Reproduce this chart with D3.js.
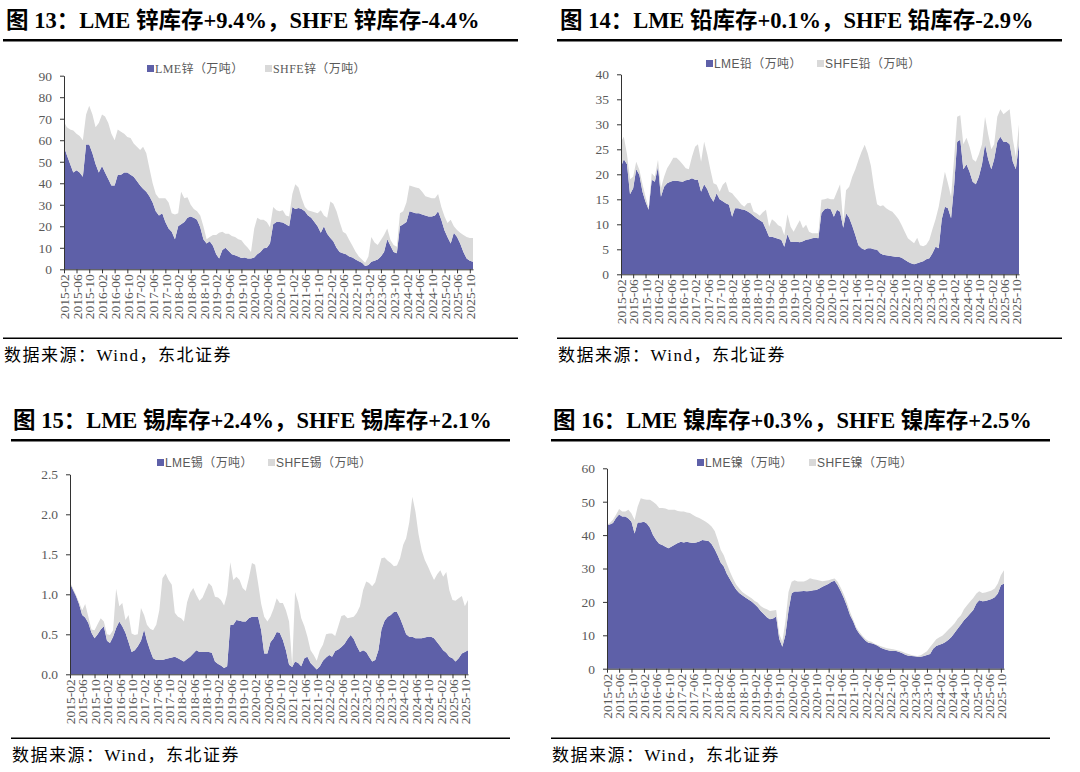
<!DOCTYPE html>
<html>
<head>
<meta charset="utf-8">
<script src="https://cdn.jsdelivr.net/npm/d3@7"></script>
<style>
  body { margin: 0; background: #fff; }
  svg { display: block; }
</style>
</head>
<body>
<script>
// months 2015-02 .. 2025-11, one point per month
var months = d3.timeMonth.range(new Date(2015, 1, 1), new Date(2025, 11, 1));
// axis labels every 4 months, 2015-02 .. 2025-10
var tickMonths = d3.range(0, 33).map(function(i){ return d3.timeMonth.offset(new Date(2015, 1, 1), 4 * i); });

// zinc, 万吨
var zincLME = [57,53,49,45,46,45,43,58,58,54,49,45, 48,45,42,39,39,44,44,45,45,44,43,41,
  39,37.5,36,34,31,27,25,26,22,19,17.5,14, 20,21,22,24,24.5,24,23,19.5,14,12,13,11,
  7,5,9,10,8.5,7,6.5,6,5.2,5.5,5,5, 5.5,7,8,9.8,10,12,21,22,22,21.7,21,20,
  29,28,28.5,28,27,25,24,22,20,17,20,16.5, 14.5,13,10,8,7.5,7,6,5.5,4.5,3.8,3,1.5,
  2,3.5,4,4.5,6,8,14,11,8,7.5,20,21, 22,27,26.5,26,26,25.5,25,24.5,24.5,25,27,23,
  18,15,12,17,15,12,8,5,4,3.5];
var zincSHFE = [11.5,13,16,19.5,17,17,17,14,18,18,17,23, 24,26,26,24,21,21,20,18,16.5,17,15.5,16,
  16.5,19.5,18,13,9,8,8,7,11,12,8.5,11.5, 6,15,11,9.5,5.5,4,4,5.5,6,2,2,5,
  9,12,8.5,6.5,8,8.5,8.5,8,8.3,6,5,3, 13.5,17,15,13.2,12,7.5,8,5.5,5,5.8,4,4.5,
  6,11.5,9.5,5,2,2.5,3,4.5,6,10.5,5,7.5, 17,17.5,17,14,10,9.5,7.6,5.5,3.7,2.2,1.5,1.5,
  4,11.5,8.5,6.8,7.6,8,5,2.6,3.3,3,6,6, 9,12,12,12,11.7,10.5,9,9,8.5,8,8,6,
  6.5,6.5,11,3,3.3,5,8,10,10.5,11];

// lead
var leadLME = [21.5,23,22,16,17.2,21,19.9,16.5,14.5,12.9,18.9,18.5, 21.5,15.5,17.5,18.2,18.5,18.7,18.7,18.6,18.5,18.8,18.9,19.2,
  18.9,18.9,16.5,18,17,15.5,14.5,16.2,15,14.6,14.2,13.9, 11.5,13.2,13.2,13,12.9,12.6,12.2,11.7,11.2,10.8,10.4,9,
  7.5,7.5,7.3,7.1,6.9,5.5,8,6.5,6.5,6.5,6.4,6.6, 6.9,7,7.2,7.3,7.2,12.2,13,13.2,13,11.5,12.9,12.5,
  9.3,12.2,11.3,9.7,7.8,5.8,5.2,4.9,5.2,5.2,5,4.9, 4.2,3.9,3.8,3.7,3.6,3.5,3.5,3.3,2.9,2.5,2.2,2,
  2.2,2.4,2.6,3,3.2,4.2,5.5,5.2,11,13.5,13.2,11.2, 18,26.5,26.9,21,22,20.5,18.5,18,19.5,22,26,23,
  21,23,26.5,27.5,26.5,26.5,26,22.5,21,26.2];
var leadSHFE = [5,4.5,2,3,2.3,1.5,1,1.5,1,0.3,1.3,1, 1.4,1.7,2,3,3.7,4.6,4.6,4.1,3.5,2.4,2.1,4.3,
  6.6,7.1,6,8.5,7,5.5,3.7,1.7,1.5,3.3,4.3,2.6, 4.7,2.3,1.6,1,0.6,1.6,2.1,0.8,1,0.9,2,3.9,
  2,3.5,3.2,2.7,2.6,2.3,4,3,2,3.2,4.4,2.6, 3,1.5,1,0.9,1,2.7,2,2,2,3.5,3.6,5.5,
  1.2,4.6,6.2,9.8,13.2,17,19.3,21,19,16.5,12.5,9.1, 9.4,9.9,9.4,9.1,8.9,8.3,7.5,6.5,5.6,4.7,4.5,4.2,
  5.1,3.4,3,2.9,3.7,4.8,5.5,8.3,6,7,5,4.3, 5.5,5,4.9,5,5.3,5,4.5,4.5,4.5,4,5.5,5,
  4,3,5,5.5,5.5,6,7,4.5,2.5,3.8];

// tin
var tinLME = [1.14,1.06,0.98,0.88,0.74,0.71,0.64,0.52,0.45,0.5,0.56,0.6, 0.42,0.39,0.47,0.58,0.66,0.6,0.52,0.4,0.28,0.3,0.35,0.42,
  0.56,0.42,0.3,0.2,0.18,0.18,0.18,0.19,0.2,0.21,0.22,0.2, 0.18,0.16,0.19,0.22,0.26,0.3,0.28,0.28,0.28,0.28,0.27,0.16,
  0.13,0.11,0.08,0.1,0.62,0.62,0.68,0.67,0.66,0.66,0.7,0.72, 0.72,0.72,0.55,0.26,0.26,0.4,0.45,0.53,0.52,0.43,0.3,0.12,
  0.09,0.16,0.14,0.1,0.2,0.22,0.14,0.1,0.06,0.1,0.17,0.21, 0.24,0.22,0.29,0.31,0.34,0.38,0.44,0.49,0.44,0.35,0.28,0.3,
  0.28,0.22,0.16,0.18,0.3,0.56,0.67,0.72,0.74,0.78,0.78,0.7, 0.6,0.5,0.47,0.47,0.45,0.45,0.45,0.46,0.47,0.47,0.45,0.4,
  0.35,0.3,0.27,0.22,0.2,0.16,0.2,0.26,0.28,0.3];
var tinSHFE = [0.01,0.02,0.01,0.02,0.06,0.17,0.08,0.04,0.1,0.13,0.14,0.06, 0.08,0.1,0.08,0.49,0.19,0.29,0.16,0.34,0.23,0.19,0.15,0.41,
  0.18,0.2,0.27,0.35,0.44,0.62,1.02,1.07,0.98,0.91,0.55,0.52, 0.52,0.5,0.71,0.8,0.82,0.69,0.64,0.68,0.77,0.86,0.83,0.81,
  0.83,0.82,0.78,0.9,0.78,0.56,0.54,0.51,0.42,0.38,0.5,0.67, 0.65,0.42,0.33,0.46,0.4,0.32,0.37,0.42,0.37,0.46,0.5,0.54,
  0.03,0.87,0.76,0.6,0.4,0.25,0.16,0.14,0.11,0.2,0.2,0.29, 0.27,0.29,0.19,0.29,0.39,0.36,0.26,0.22,0.28,0.42,0.57,0.75,
  0.88,0.92,0.94,0.97,1.0,0.89,0.79,0.7,0.65,0.57,0.58,0.75, 1.02,1.2,1.43,1.75,1.58,1.3,1.1,0.97,0.88,0.79,0.73,0.85,
  0.95,0.92,1.01,0.83,0.73,0.76,0.75,0.72,0.57,0.63];

// nickel
var nickelLME = [43.1,43.2,43.6,45.1,46.2,45.6,45.6,45,44,40.5,43.8,43.8, 44,43.5,42.2,40,38.5,37.4,37,36.5,36.1,36.6,37.1,37.6,
  38,37.8,38,37.8,37.6,37.8,38.1,38.5,38.4,38.2,37.3,35.8, 33.8,31.8,30.6,28.4,26.8,25.2,23.7,22.7,22,21.3,20.7,20.1,
  19.3,18.5,17.3,16.4,15.4,14.8,15,15.6,9,6.6,10.1,17.5, 22.6,23.1,23.1,23.2,23.3,23.2,23.3,23.5,23.6,24,24.5,25,
  25.4,26,26.3,25,23.2,21.2,18.8,16,14.2,11.9,10.5,9.4, 8.4,7.8,7.6,7.3,6.9,6.3,5.9,5.6,5.4,5.3,5.3,5,
  4.6,4.2,3.9,3.8,3.7,3.6,3.6,3.8,4.1,4.4,6,6.8, 7.2,7.5,8,8.7,9.6,10.8,12,13.2,14.5,15.5,16.5,17.6,
  19.5,20.5,20.2,20.3,20.6,20.9,21.4,22.5,25,25.5];
var nickelSHFE = [0,0.4,1,1,1.6,1.5,1.5,2.6,2.5,4,4.7,7.2, 6.7,7.1,8.4,10,10.7,10.7,11.1,11.5,11.5,11,10.5,9.6,
  9.1,9.3,8.8,8.8,8.4,7.7,7,6.1,5.7,5.2,5.3,5.4, 4.7,3.8,3.4,3,2.2,1.8,1.5,1.3,1,1,1,1,
  1,1.3,1.5,1.8,2.4,2.5,2.4,2,1.5,1.5,4,5.5, 3.4,3.4,3,2.9,2.8,3.3,3.8,3.3,3,2.4,1.7,1.3,
  1.1,0.8,0.7,1,1,1,1,1,0.5,0.5,0.6,0.5, 0.5,0.5,0.5,0.2,0.2,0.4,0.5,0.5,0.6,0.5,0.3,0.4,
  0.5,0.5,0.5,0.3,0.2,0.2,0.4,0.8,1.1,2.1,1.6,2, 2.2,2.4,2.8,3,3,2.8,3,2.8,3.3,3.5,3.6,3.6,
  3,2.7,2.5,2.5,2.5,2.5,2.6,3,3,4];

var titles = ["图 13：LME 锌库存+9.4%，SHFE 锌库存-4.4%",
              "图 14：LME 铅库存+0.1%，SHFE 铅库存-2.9%",
              "图 15：LME 锡库存+2.4%，SHFE 锡库存+2.1%",
              "图 16：LME 镍库存+0.3%，SHFE 镍库存+2.5%"];
var metals = ["锌", "铅", "锡", "镍"];
var yTicks = [[0,10,20,30,40,50,60,70,80,90],
              [0,5,10,15,20,25,30,35,40],
              [0,0.5,1.0,1.5,2.0,2.5],
              [0,10,20,30,40,50,60]];
var source = "数据来源：Wind，东北证券";

var LME_COLOR = "#5e60a8";
var SHFE_COLOR = "#d9d9d9";
var TEXT_COLOR = "#595959";

// panel layout (pixels)
var panels = [
  {left: 3,   right: 518,  titleX: 6,   top: 0,   px0: 64,  px1: 473,  py0: 269.3, py1: 75.7,  legY: 69, legA: 147, legB: 265, serifLegend: true},
  {left: 557, right: 1062, titleX: 560, top: 0,   px0: 621, px1: 1019, py0: 274.3, py1: 74.3,  legY: 64, legA: 706, legB: 817},
  {left: 11,  right: 510,  titleX: 13,  top: 400, px0: 70,  px1: 468,  py0: 674.3, py1: 474.3, legY: 463, legA: 157, legB: 268},
  {left: 551, right: 1050, titleX: 553, top: 400, px0: 607, px1: 1004, py0: 668.7, py1: 468.3, legY: 463, legA: 697, legB: 809}
];
var series = [[zincLME, zincSHFE], [leadLME, leadSHFE], [tinLME, tinSHFE], [nickelLME, nickelSHFE]];

var svg = d3.select("body").append("svg")
  .attr("width", 1080)
  .attr("height", 772);

for (var j = 0; j < panels.length; j++) {
  drawPanel(panels[j], j);
}

function drawPanel(p, j) {
  var g = svg.append("g");
  var ticks = yTicks[j];
  var rows = months.map(function(d, i){
    return {date: d, lme: series[j][0][i], shfe: series[j][1][i]};
  });

  var x = d3.scaleTime()
    .domain([months[0], months[months.length - 1]])
    .range([p.px0, p.px1]);
  var y = d3.scaleLinear()
    .domain([0, ticks[ticks.length - 1]])
    .range([p.py0, p.py1]);

  // title + rules
  g.append("text")
    .attr("x", p.titleX)
    .attr("y", p.top + 28)
    .attr("font-family", "'Liberation Serif', 'Noto Sans CJK SC', serif")
    .attr("font-weight", "bold")
    .attr("font-size", "22.5px")
    .attr("fill", "#000")
    .text(titles[j]);
  g.append("rect")
    .attr("x", p.left).attr("y", p.top + 39)
    .attr("width", p.right - p.left).attr("height", 2.5)
    .attr("fill", "#000");
  g.append("rect")
    .attr("x", p.left).attr("y", p.top + 337.5)
    .attr("width", p.right - p.left).attr("height", 1.5)
    .attr("fill", "#000");
  g.append("text")
    .attr("x", p.left + 1)
    .attr("y", p.top + 361)
    .attr("font-family", "'Liberation Serif', 'Noto Sans CJK SC', serif")
    .attr("font-size", "17px")
    .attr("letter-spacing", "1.5px")
    .attr("fill", "#000")
    .text(source);

  // stacked areas
  var stacked = d3.stack().keys(["lme", "shfe"])(rows);
  var area = d3.area()
    .x(function(d){ return x(d.data.date); })
    .y0(function(d){ return y(d[0]); })
    .y1(function(d){ return y(d[1]); });
  g.selectAll("path.layer").data(stacked).enter().append("path")
    .attr("class", "layer")
    .attr("d", area)
    .attr("fill", function(d, i){ return i === 0 ? LME_COLOR : SHFE_COLOR; });

  // axes
  var fmt = j === 2 ? d3.format(".1f") : d3.format("d");
  var yAxis = g.append("g")
    .attr("transform", "translate(" + p.px0 + ",0)")
    .call(d3.axisLeft(y).tickValues(ticks).tickFormat(fmt).tickSize(4).tickSizeOuter(0).tickPadding(8));
  var xAxis = g.append("g")
    .attr("transform", "translate(0," + p.py0 + ")")
    .call(d3.axisBottom(x).tickValues(tickMonths).tickFormat(d3.timeFormat("%Y-%m")).tickSize(4).tickSizeOuter(0));
  xAxis.selectAll("text")
    .attr("transform", "rotate(-90)")
    .attr("text-anchor", "end")
    .attr("x", -5)
    .attr("y", 0)
    .attr("dy", "0.35em");
  [yAxis, xAxis].forEach(function(a){
    a.selectAll("path, line").attr("stroke", "#333");
    a.selectAll("text")
      .attr("font-family", "'Liberation Serif', serif")
      .attr("font-size", "13.5px")
      .attr("fill", TEXT_COLOR);
  });

  // legend
  var legFont = p.serifLegend ? "'Liberation Serif', 'Noto Sans CJK SC', serif" : "'Liberation Sans', 'Noto Sans CJK SC', sans-serif";
  var legend = [
    {x: p.legA, color: LME_COLOR, label: "LME" + metals[j] + "（万吨）"},
    {x: p.legB, color: SHFE_COLOR, label: "SHFE" + metals[j] + "（万吨）"}
  ];
  var lg = g.selectAll("g.leg").data(legend).enter().append("g").attr("class", "leg");
  lg.append("rect")
    .attr("x", function(d){ return d.x; })
    .attr("y", p.legY - 4)
    .attr("width", 7).attr("height", 7)
    .attr("fill", function(d){ return d.color; });
  lg.append("text")
    .attr("x", function(d){ return d.x + 8; })
    .attr("y", p.legY + 4)
    .attr("font-family", legFont)
    .attr("font-size", "12px")
    .attr("letter-spacing", "0.4px")
    .attr("fill", TEXT_COLOR)
    .text(function(d){ return d.label; });
}
</script>
</body>
</html>
